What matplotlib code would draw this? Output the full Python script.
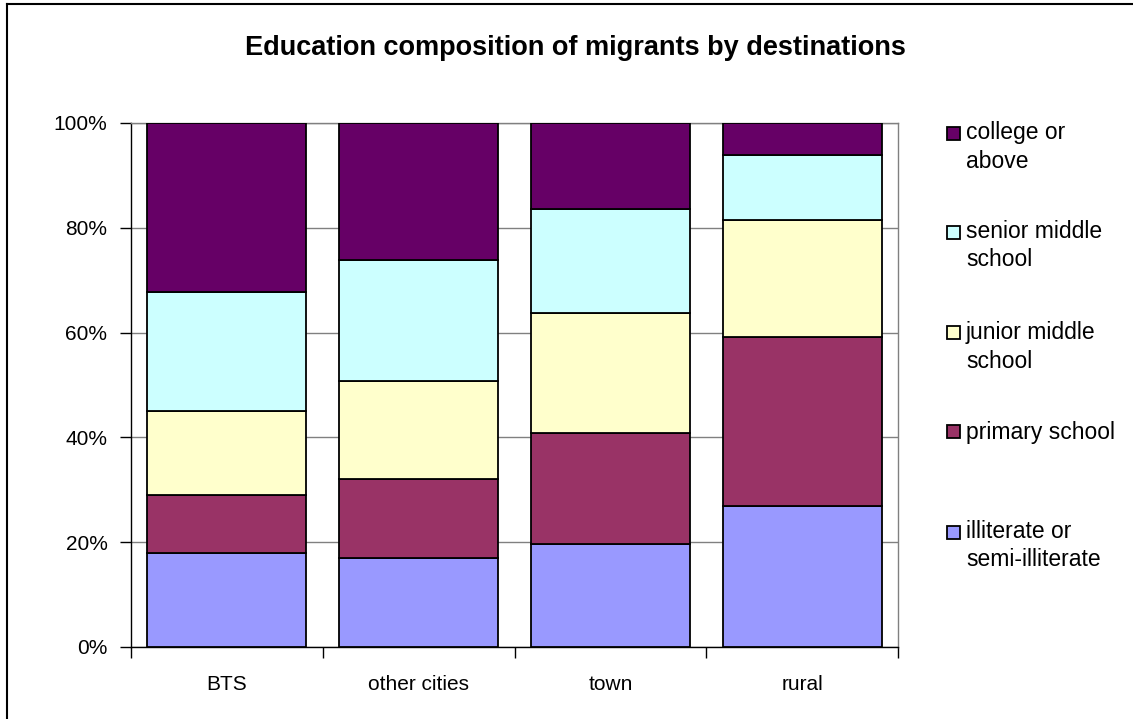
import numpy as np
import matplotlib
matplotlib.use('Agg')
import matplotlib.pyplot as plt
from matplotlib.patches import Rectangle
from matplotlib.lines import Line2D

plt.rcParams['font.family'] = ['Liberation Sans', 'DejaVu Sans']

# data (percent of migrants)
destinations = ['BTS', 'other cities', 'town', 'rural']
levels = ['illiterate or\nsemi-illiterate', 'primary school', 'junior middle\nschool',
          'senior middle\nschool', 'college or\nabove']
illiterate = [18.0, 17.0, 19.7, 26.9]
primary = [11.0, 15.0, 21.2, 32.2]
junior = [16.0, 18.8, 22.9, 22.3]
senior = [22.7, 23.1, 19.8, 12.4]
college = [32.3, 26.1, 16.4, 6.2]
colors = ['#9999FF', '#993366', '#FFFFCC', '#CCFFFF', '#660066']

W, H = 1133, 719
fig = plt.figure(figsize=(W / 100, H / 100), dpi=100)
fig.patch.set_facecolor('white')

# plot area in pixels: left 131, right 898, top 123, bottom 647
ax = fig.add_axes([131 / W, (H - 647) / H, 767 / W, 524 / H])

series = [illiterate, primary, junior, senior, college]
x = np.arange(len(destinations))
bottom = np.zeros(len(destinations))
for vals, col in zip(series, colors):
    vals = np.array(vals)
    ax.bar(x, vals, width=0.83, bottom=bottom, color=col, edgecolor='black',
           linewidth=1.3, zorder=3)
    bottom += vals

ax.set_xlim(-0.5, len(destinations) - 0.5)
ax.set_ylim(0, 100)
ax.set_yticks(np.arange(0, 101, 20))
ax.set_yticklabels(['%d%%' % v for v in range(0, 101, 20)])
ax.yaxis.grid(True, color='#808080', linewidth=1.0, zorder=0)
ax.set_axisbelow(True)

ax.set_xticks(x)
ax.set_xticklabels(destinations)
ax.set_xticks(np.arange(-0.5, len(destinations)), minor=True)
ax.tick_params(axis='x', which='major', length=0, pad=20, labelsize=15)
ax.tick_params(axis='x', which='minor', length=8, width=1, direction='out')
ax.tick_params(axis='y', length=8, width=1, direction='out', pad=9, labelsize=15)

for s in ['top', 'right']:
    ax.spines[s].set_color('#808080')
    ax.spines[s].set_linewidth(1.0)
for s in ['left', 'bottom']:
    ax.spines[s].set_color('black')
    ax.spines[s].set_linewidth(1.0)

fig.text(575 / W, 1 - 48 / H, 'Education composition of migrants by destinations',
         ha='center', va='center', fontsize=19.5, fontweight='bold')

# legend, drawn like the spreadsheet one: square marker beside the first line
legend_y = [133, 232, 333, 432, 532]
for label, col, ly in zip(levels[::-1], colors[::-1], legend_y):
    fig.patches.append(Rectangle((947 / W, 1 - (ly + 6.5) / H), 13 / W, 13 / H,
                                 transform=fig.transFigure, facecolor=col,
                                 edgecolor='black', linewidth=1.3))
    for i, line in enumerate(label.split('\n')):
        fig.text(966 / W, 1 - (ly + i * 28) / H, line, ha='left', va='center',
                 fontsize=16.5)

# chart border (top and left edges visible in the reference)
fig.add_artist(Line2D([7 / W, 7 / W], [0, 1 - 4 / H], transform=fig.transFigure,
                      color='black', linewidth=1.5))
fig.add_artist(Line2D([7 / W, 1], [1 - 4 / H, 1 - 4 / H], transform=fig.transFigure,
                      color='black', linewidth=1.5))

fig.savefig('out.png', dpi=100)
